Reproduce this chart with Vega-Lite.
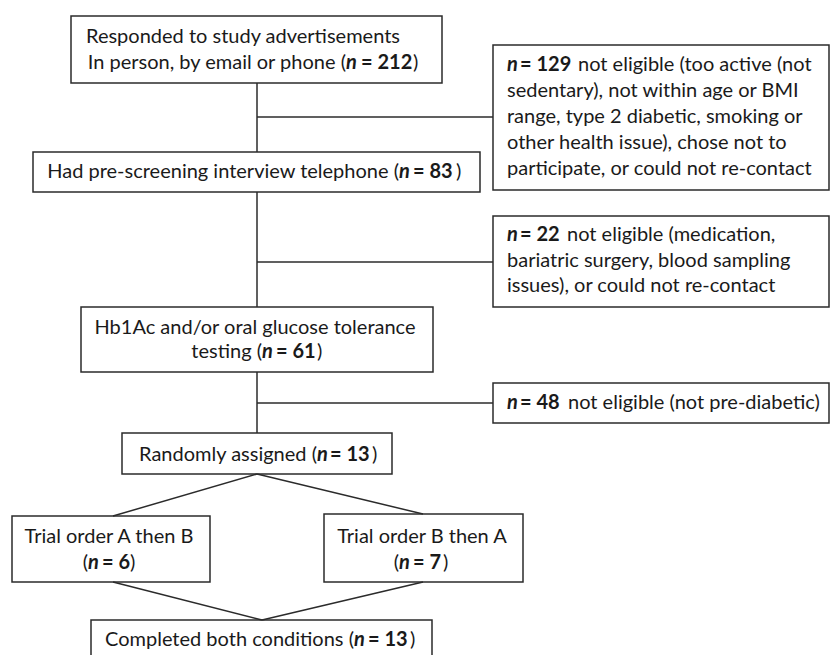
{
  "$schema": "https://vega.github.io/schema/vega-lite/v6.json",
  "width": 830,
  "height": 655,
  "padding": 0,
  "autosize": {"type": "none"},
  "config": {"view": {"stroke": null}, "text": {"font": "Lato", "fontSize": 20, "color": "#1a1a1a", "baseline": "middle"}},
  "datasets": {
    "boxes": [
      {"id": "b1", "x1": 71, "y1": 16, "x2": 442, "y2": 83},
      {"id": "b2", "x1": 33, "y1": 152, "x2": 480, "y2": 192},
      {"id": "r1", "x1": 493, "y1": 45, "x2": 829, "y2": 190},
      {"id": "r2", "x1": 493, "y1": 216, "x2": 829, "y2": 307},
      {"id": "b3", "x1": 81, "y1": 307, "x2": 433, "y2": 372},
      {"id": "r3", "x1": 493, "y1": 383, "x2": 829, "y2": 423},
      {"id": "b4", "x1": 122, "y1": 433, "x2": 392, "y2": 474},
      {"id": "b5", "x1": 12, "y1": 516, "x2": 210, "y2": 582},
      {"id": "b6", "x1": 324, "y1": 514, "x2": 523, "y2": 582},
      {"id": "b7", "x1": 91, "y1": 620, "x2": 432, "y2": 665}
    ],
    "lines": [
      {"x1": 257, "y1": 83, "x2": 257, "y2": 152},
      {"x1": 257, "y1": 117, "x2": 493, "y2": 117},
      {"x1": 257, "y1": 192, "x2": 257, "y2": 307},
      {"x1": 257, "y1": 262, "x2": 493, "y2": 262},
      {"x1": 257, "y1": 372, "x2": 257, "y2": 433},
      {"x1": 257, "y1": 403, "x2": 493, "y2": 403},
      {"x1": 257, "y1": 474, "x2": 113, "y2": 516},
      {"x1": 257, "y1": 474, "x2": 423, "y2": 514},
      {"x1": 113, "y1": 582, "x2": 262, "y2": 620},
      {"x1": 423, "y1": 582, "x2": 262, "y2": 620}
    ],
    "texts": [
      {"t": "Responded to study advertisements", "x": 86, "y": 37, "k": "pl"},
      {"t": "In person, by email or phone (", "x": 346, "y": 63, "k": "pr"},
      {"t": "n", "x": 346, "y": 63, "k": "bi"},
      {"t": "= 212", "x": 361, "y": 63, "k": "b"},
      {"t": ")", "x": 413, "y": 63, "k": "pl"},

      {"t": "Had pre-screening interview telephone (", "x": 399, "y": 172, "k": "pr"},
      {"t": "n", "x": 399, "y": 172, "k": "bi"},
      {"t": "= 83", "x": 413, "y": 172, "k": "b"},
      {"t": ")", "x": 456, "y": 172, "k": "pl"},

      {"t": "n", "x": 507, "y": 65, "k": "bi"},
      {"t": "= 129", "x": 520, "y": 65, "k": "b"},
      {"t": "not eligible (too active (not", "x": 578, "y": 65, "k": "pl"},
      {"t": "sedentary), not within age or BMI", "x": 507, "y": 91, "k": "pl"},
      {"t": "range, type 2 diabetic, smoking or", "x": 507, "y": 117, "k": "pl"},
      {"t": "other health issue), chose not to", "x": 507, "y": 143, "k": "pl"},
      {"t": "participate, or could not re-contact", "x": 507, "y": 169, "k": "pl"},

      {"t": "n", "x": 507, "y": 235, "k": "bi"},
      {"t": "= 22", "x": 520, "y": 235, "k": "b"},
      {"t": "not eligible (medication,", "x": 567, "y": 235, "k": "pl"},
      {"t": "bariatric surgery, blood sampling", "x": 507, "y": 261, "k": "pl"},
      {"t": "issues), or could not re-contact", "x": 507, "y": 286, "k": "pl"},

      {"t": "Hb1Ac and/or oral glucose tolerance", "x": 255, "y": 328, "k": "pc"},
      {"t": "testing (", "x": 262, "y": 352, "k": "pr"},
      {"t": "n", "x": 262, "y": 352, "k": "bi"},
      {"t": "= 61", "x": 276, "y": 352, "k": "b"},
      {"t": ")", "x": 317, "y": 352, "k": "pl"},

      {"t": "n", "x": 507, "y": 403, "k": "bi"},
      {"t": "= 48", "x": 520, "y": 403, "k": "b"},
      {"t": "not eligible (not pre-diabetic)", "x": 568, "y": 403, "k": "pl"},

      {"t": "Randomly assigned (", "x": 317, "y": 455, "k": "pr"},
      {"t": "n", "x": 317, "y": 455, "k": "bi"},
      {"t": "= 13", "x": 330, "y": 455, "k": "b"},
      {"t": ")", "x": 372, "y": 455, "k": "pl"},

      {"t": "Trial order A then B", "x": 109, "y": 537, "k": "pc"},
      {"t": "(", "x": 88, "y": 563, "k": "pr"},
      {"t": "n", "x": 88, "y": 563, "k": "bi"},
      {"t": "= 6", "x": 102, "y": 563, "k": "b"},
      {"t": ")", "x": 130, "y": 563, "k": "pl"},

      {"t": "Trial order B then A", "x": 422, "y": 537, "k": "pc"},
      {"t": "(", "x": 399, "y": 563, "k": "pr"},
      {"t": "n", "x": 399, "y": 563, "k": "bi"},
      {"t": "= 7", "x": 413, "y": 563, "k": "b"},
      {"t": ")", "x": 443, "y": 563, "k": "pl"},

      {"t": "Completed both conditions (", "x": 354, "y": 640, "k": "pr"},
      {"t": "n", "x": 354, "y": 640, "k": "bi"},
      {"t": "= 13", "x": 368, "y": 640, "k": "b"},
      {"t": ")", "x": 410, "y": 640, "k": "pl"}
    ]
  },
  "layer": [
    {
      "data": {"name": "boxes"},
      "mark": {"type": "rect", "fill": "white", "stroke": "#2b2b2b", "strokeWidth": 1.5, "clip": true},
      "encoding": {
        "x": {"field": "x1", "type": "quantitative", "scale": {"domain": [0, 830], "nice": false, "zero": false}, "axis": null},
        "x2": {"field": "x2"},
        "y": {"field": "y1", "type": "quantitative", "scale": {"domain": [0, 655], "nice": false, "zero": false, "reverse": true}, "axis": null},
        "y2": {"field": "y2"}
      }
    },
    {
      "data": {"name": "lines"},
      "mark": {"type": "rule", "stroke": "#2b2b2b", "strokeWidth": 1.5},
      "encoding": {
        "x": {"field": "x1", "type": "quantitative", "axis": null},
        "x2": {"field": "x2"},
        "y": {"field": "y1", "type": "quantitative", "axis": null},
        "y2": {"field": "y2"}
      }
    },
    {
      "data": {"name": "texts"},
      "transform": [{"filter": "datum.k === 'pl'"}],
      "mark": {"type": "text", "align": "left"},
      "encoding": {
        "x": {"field": "x", "type": "quantitative", "axis": null},
        "y": {"field": "y", "type": "quantitative", "axis": null},
        "text": {"field": "t"}
      }
    },
    {
      "data": {"name": "texts"},
      "transform": [{"filter": "datum.k === 'pr'"}],
      "mark": {"type": "text", "align": "right"},
      "encoding": {
        "x": {"field": "x", "type": "quantitative", "axis": null},
        "y": {"field": "y", "type": "quantitative", "axis": null},
        "text": {"field": "t"}
      }
    },
    {
      "data": {"name": "texts"},
      "transform": [{"filter": "datum.k === 'pc'"}],
      "mark": {"type": "text", "align": "center"},
      "encoding": {
        "x": {"field": "x", "type": "quantitative", "axis": null},
        "y": {"field": "y", "type": "quantitative", "axis": null},
        "text": {"field": "t"}
      }
    },
    {
      "data": {"name": "texts"},
      "transform": [{"filter": "datum.k === 'b'"}],
      "mark": {"type": "text", "align": "left", "fontWeight": "bold"},
      "encoding": {
        "x": {"field": "x", "type": "quantitative", "axis": null},
        "y": {"field": "y", "type": "quantitative", "axis": null},
        "text": {"field": "t"}
      }
    },
    {
      "data": {"name": "texts"},
      "transform": [{"filter": "datum.k === 'bi'"}],
      "mark": {"type": "text", "align": "left", "fontWeight": "bold", "fontStyle": "italic"},
      "encoding": {
        "x": {"field": "x", "type": "quantitative", "axis": null},
        "y": {"field": "y", "type": "quantitative", "axis": null},
        "text": {"field": "t"}
      }
    }
  ]
}
